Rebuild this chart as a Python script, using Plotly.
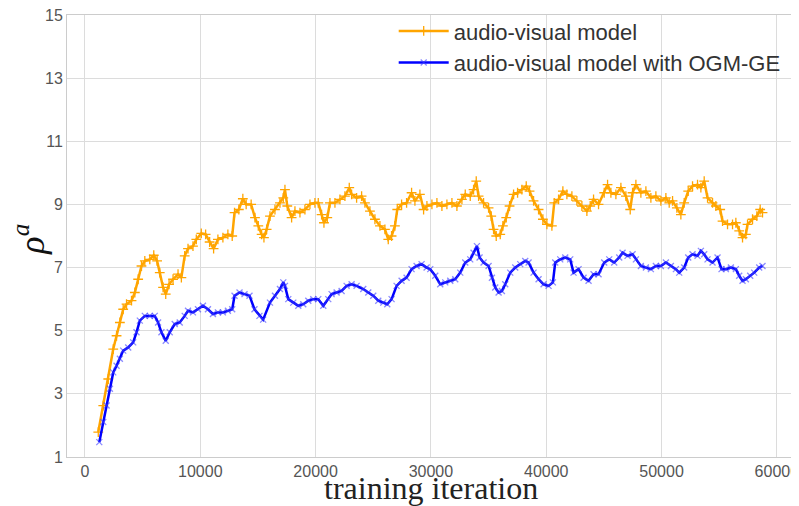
import plotly.graph_objects as go

# ---- data ----
av_iter = [1153, 1585, 2017, 2450, 2738, 3026, 3314, 3602, 4035, 4323, 4611, 4899, 5188, 5620, 5965,
           6254, 6484, 6772, 7003, 7291, 7637, 8069, 8358, 8646, 8934, 9366, 9654, 10087, 10461, 10807,
           11153, 11527, 11960, 12392, 12767, 12969, 13343, 13689, 13977, 14409, 14740, 15029, 15318,
           15520, 15752, 16041, 16475, 16908, 17197, 17341, 17544, 17919, 18208, 18642, 19075, 19509,
           19942, 20231, 20520, 20723, 21012, 21243, 21676, 22110, 22543, 22919, 23121, 23555, 23988,
           24277, 24711, 25144, 25578, 26011, 26300, 26589, 26878, 27081, 27456, 27890, 28323, 28612,
           29046, 29364, 29653, 30087, 30520, 30954, 31387, 31821, 32254, 32688, 32977, 33410, 33699,
           33930, 34133, 34566, 35000, 35231, 35433, 35664, 36011, 36242, 36531, 36820, 37168, 37514,
           37890, 38265, 38554, 38901, 39335, 39710, 40057, 40491, 40693, 41069, 41444, 41791, 42225,
           42658, 43092, 43525, 43814, 44103, 44537, 45029, 45318, 45607, 46041, 46474, 46908, 47283,
           47486, 47775, 48208, 48642, 49075, 49509, 49942, 50376, 50665, 50954, 51329, 51676, 51965,
           52312, 52688, 53121, 53410, 53699, 53988, 54422, 54711, 55086, 55289, 55722, 56156, 56445,
           56734, 57023, 57312, 57456, 57890, 58265, 58554, 58757]
av_rho = [1.79, 2.63, 3.47, 4.42, 4.84, 5.26, 5.68, 5.84, 5.95, 6.21, 6.63, 7.05, 7.21, 7.26, 7.39,
          7.21, 6.84, 6.37, 6.16, 6.47, 6.63, 6.79, 6.68, 7.37, 7.60, 7.68, 7.89, 8.08, 8.05, 7.81,
          7.60, 7.89, 7.95, 8.05, 8.00, 8.74, 8.84, 9.18, 9.00, 9.00, 8.58, 8.32, 8.05,
          7.95, 8.21, 8.63, 8.84, 9.05, 9.21, 9.47, 8.95, 8.58, 8.79, 8.74, 8.84, 9.00,
          9.05, 9.05, 8.68, 8.42, 8.58, 9.05, 9.05, 9.16, 9.26, 9.53, 9.32, 9.21, 9.26,
          9.05, 8.79, 8.53, 8.32, 8.21, 7.89, 8.00, 8.32, 8.84, 9.00, 9.05, 9.37, 9.11,
          9.32, 8.84, 8.95, 9.00, 9.05, 8.95, 9.00, 9.05, 8.95, 9.16, 9.32, 9.26, 9.47,
          9.74, 9.26, 9.05, 8.89, 8.63, 8.21, 8.00, 8.05, 8.32, 8.58, 8.95, 9.32, 9.37,
          9.47, 9.58, 9.42, 9.11, 8.84, 8.53, 8.37, 8.32, 9.05, 9.16, 9.42, 9.32, 9.26,
          9.11, 8.95, 8.79, 8.95, 9.16, 9.00, 9.37, 9.63, 9.37, 9.32, 9.53, 9.26, 8.84,
          9.37, 9.63, 9.37, 9.42, 9.21, 9.26, 9.11, 9.21, 9.05, 9.11, 8.89, 8.68, 9.05,
          9.42, 9.58, 9.63, 9.53, 9.74, 9.21, 9.05, 8.95, 8.84, 8.47, 8.37, 8.37, 8.42,
          8.16, 7.95, 8.05, 8.37, 8.53, 8.63, 8.84, 8.74]

ogm_iter = [1239, 1585, 1873, 2162, 2450, 2738, 3026, 3314, 3747, 4179, 4467, 4755, 5188, 5620, 6052,
            6340, 6629, 7003, 7349, 7781, 8214, 8646, 8934, 9366, 9799, 10231, 10663, 11096, 11528,
            11960, 12393, 12767, 12969, 13401, 13834, 14266, 14698, 15130, 15450, 16041, 16475, 16908,
            17197, 17341, 17630, 18064, 18497, 18931, 19364, 19798, 20231, 20665, 21098, 21387, 21821,
            22254, 22688, 23121, 23555, 24133, 24566, 25000, 25433, 25867, 26214, 26589, 27023, 27456,
            27890, 28323, 28757, 29190, 29624, 29942, 30376, 30809, 31243, 31676, 32110, 32543, 32977,
            33410, 33699, 33988, 34219, 34566, 35000, 35289, 35578, 35867, 36156, 36445, 36878, 37312,
            37745, 38179, 38468, 38901, 39335, 39768, 40202, 40577, 40780, 41213, 41647, 42080, 42369,
            42803, 43236, 43670, 44103, 44537, 45029, 45463, 45896, 46330, 46619, 47052, 47486, 47775,
            48208, 48642, 49075, 49509, 49942, 50376, 50809, 51243, 51532, 51965, 52312, 52688, 53121,
            53410, 53699, 53988, 54422, 54856, 55202, 55578, 56011, 56445, 56734, 57023, 57312, 57688,
            58035, 58468, 58757]
ogm_rho = [1.47, 2.11, 2.63, 3.16, 3.68, 3.89, 4.11, 4.37, 4.47, 4.63, 4.95, 5.32, 5.47, 5.47, 5.47,
           5.26, 4.95, 4.68, 4.95, 5.21, 5.26, 5.47, 5.63, 5.58, 5.68, 5.79, 5.68, 5.53, 5.58,
           5.58, 5.63, 5.68, 6.11, 6.21, 6.16, 6.11, 5.68, 5.47, 5.35, 5.89, 6.11, 6.32,
           6.53, 6.42, 6.00, 5.89, 5.79, 5.84, 5.95, 6.00, 6.00, 5.79, 6.00, 6.16, 6.21,
           6.26, 6.42, 6.47, 6.42, 6.32, 6.21, 6.11, 5.95, 5.89, 5.84, 6.00, 6.42, 6.58,
           6.68, 6.95, 7.05, 7.11, 7.00, 6.95, 6.74, 6.47, 6.53, 6.58, 6.63, 6.84, 7.16,
           7.26, 7.47, 7.68, 7.32, 7.16, 7.05, 6.68, 6.37, 6.21, 6.26, 6.47, 6.84, 7.00,
           7.11, 7.21, 7.16, 6.84, 6.63, 6.47, 6.42, 6.53, 7.16, 7.26, 7.32, 7.26, 6.84,
           6.95, 6.68, 6.58, 6.79, 6.79, 7.16, 7.26, 7.16, 7.32, 7.47, 7.37, 7.42, 7.26,
           7.05, 7.00, 6.95, 7.05, 7.05, 7.16, 7.05, 6.95, 6.84, 7.00, 7.32, 7.42, 7.37,
           7.53, 7.42, 7.26, 7.16, 7.32, 6.95, 6.95, 7.00, 6.95, 6.74, 6.58, 6.63, 6.74,
           6.84, 7.00, 7.05]

series_names = ["audio-visual model", "audio-visual model with OGM-GE"]
x_ticks = [0, 10000, 20000, 30000, 40000, 50000, 60000]
y_ticks = [1, 3, 5, 7, 9, 11, 13, 15]

fig = go.Figure()
fig.add_trace(go.Scatter(
    x=av_iter, y=av_rho, mode="lines+markers", name=series_names[0], legendgroup="a",
    line=dict(color="#FFA500", width=2.5),
    marker=dict(symbol="cross-thin", size=7, line=dict(color="#FFA500", width=1.3)),
))
fig.add_trace(go.Scatter(
    x=ogm_iter, y=ogm_rho, mode="lines+markers", name=series_names[1], legendgroup="b",
    line=dict(color="#0000FF", width=2.5),
    marker=dict(symbol="x-thin", size=6, line=dict(color="rgba(60,60,255,0.6)", width=1.3)),
))

axis_common = dict(showgrid=True, gridcolor="#dcdcdc", gridwidth=1, zeroline=False,
                   showline=True, linecolor="#cccccc", linewidth=1, mirror=True, automargin=False,
                   ticklabeloverflow="allow",
                   ticks="", tickfont=dict(family="Liberation Sans, Arial, sans-serif", size=16, color="#555555"))

fig.update_xaxes(range=[-1560, 61400], tickvals=x_ticks, ticktext=[str(v) for v in x_ticks], **axis_common)
fig.update_yaxes(range=[1, 15], tickvals=y_ticks, ticktext=[str(v) for v in y_ticks], **axis_common)

# the page body adds an 8px offset, so the figure is sized/margined to compensate
fig.update_layout(
    width=799, height=498,
    margin=dict(l=59, r=14, t=7, b=49, autoexpand=False),
    plot_bgcolor="white", paper_bgcolor="white",
    showlegend=True,
    legend=dict(x=0.450, y=1.011, xanchor="left", yanchor="top", itemwidth=50,
                bgcolor="rgba(255,255,255,0)", borderwidth=0,
                font=dict(family="Liberation Sans, Arial, sans-serif", size=22, color="#333333"),
                tracegroupgap=0),
    annotations=[
        dict(text="<i>ρ</i><sup><i>a</i></sup>", xref="paper", yref="paper",
             x=-0.051, y=0.494, xanchor="center", yanchor="middle", showarrow=False, textangle=-90,
             font=dict(family="Liberation Serif, Times New Roman, serif", size=36, color="#111111")),
        dict(text="training iteration", xref="paper", yref="paper",
             x=0.501, y=-0.025, xanchor="center", yanchor="top", showarrow=False,
             font=dict(family="Liberation Serif, Times New Roman, serif", size=32, color="#222222")),
    ],
)

fig.write_html("out.html")
